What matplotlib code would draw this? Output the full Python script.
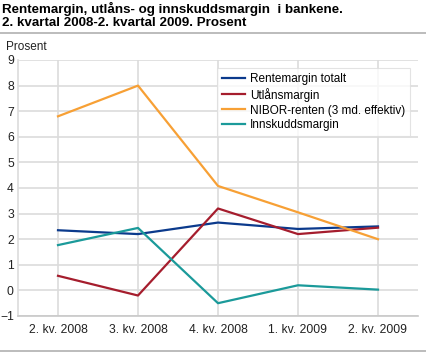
import matplotlib
matplotlib.use("Agg")
import matplotlib.pyplot as plt
from matplotlib.lines import Line2D

plt.rcParams['font.family'] = ['Liberation Sans', 'DejaVu Sans']

quarters = ['2. kv. 2008', '3. kv. 2008', '4. kv. 2008', '1. kv. 2009', '2. kv. 2009']
rentemargin = [2.35, 2.2, 2.65, 2.4, 2.5]
utlansmargin = [0.57, -0.2, 3.2, 2.2, 2.45]
nibor = [6.8, 8.0, 4.08, 3.05, 2.0]
innskuddsmargin = [1.77, 2.44, -0.5, 0.2, 0.03]

series = [
    ('Rentemargin totalt', rentemargin, '#0b3a8c'),
    ('Utlånsmargin', utlansmargin, '#a51d2d'),
    ('NIBOR-renten (3 md. effektiv)', nibor, '#f7a035'),
    ('Innskuddsmargin', innskuddsmargin, '#1b9a9a'),
]

fig = plt.figure(figsize=(4.26, 3.53), dpi=100)
ax = fig.add_axes([18/426, 1 - 316/353, 400/426, 256/353])

x = list(range(len(quarters)))
for name, vals, col in series:
    ax.plot(x, vals, color=col, lw=1.6, label=name, zorder=3)

ax.set_xlim(-0.5, 4.5)
ax.set_ylim(-1, 9)
ax.set_yticks(range(-1, 10))
ax.set_xticks(x)
ax.set_xticklabels(quarters)
ax.grid(True, color='#dcdcdc', lw=1.2, zorder=0)
ax.set_axisbelow(True)
for s in ['top', 'right']:
    ax.spines[s].set_visible(False)
ax.spines['left'].set_color('#dcdcdc')
ax.spines['bottom'].set_color('#c8c8c8')
ax.spines['left'].set_linewidth(1.2)
ax.spines['bottom'].set_linewidth(1.2)
ax.tick_params(length=0, labelsize=8.7, colors='#222222')
ax.tick_params(axis='y', pad=3)
ax.tick_params(axis='x', pad=6)

leg = ax.legend(loc='upper right', bbox_to_anchor=(392/400, 1 - 8/256), fontsize=8.5,
                frameon=True, fancybox=False, handlelength=2.0, handletextpad=0.4,
                labelspacing=0.25, borderpad=0.4, borderaxespad=0)
leg.get_frame().set_edgecolor('#dddddd')
leg.get_frame().set_linewidth(0.8)

fig.text(2/426, 1 - 2/353, 'Rentemargin, utlåns- og innskuddsmargin  i bankene.\n2. kvartal 2008-2. kvartal 2009. Prosent',
         fontsize=9.6, fontweight='bold', va='top', ha='left', linespacing=1.15)
fig.text(6/426, 1 - 53/353, 'Prosent', fontsize=8.5, va='bottom', ha='left', color='#222222')

fig.add_artist(Line2D([0, 1], [1 - 33/353, 1 - 33/353], color='#b0b0b0', lw=1.2))
fig.add_artist(Line2D([0, 1], [1 - 351/353, 1 - 351/353], color='#b0b0b0', lw=1.2))

fig.savefig('out.png', dpi=100)
